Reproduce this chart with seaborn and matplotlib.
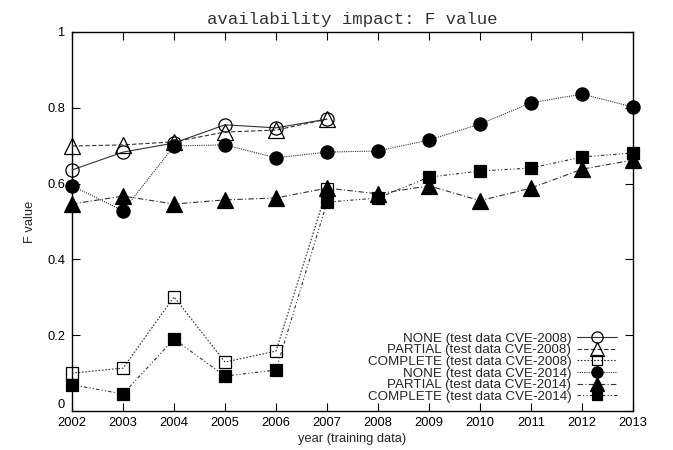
import pandas as pd
import matplotlib
matplotlib.use('Agg')
import matplotlib.pyplot as plt
import seaborn as sns

years_2008 = [2002, 2003, 2004, 2005, 2006, 2007]
years_2014 = list(range(2002, 2014))

none_2008 = [0.636, 0.683, 0.707, 0.755, 0.747, 0.770]
partial_2008 = [0.699, 0.702, 0.710, 0.736, 0.741, 0.770]
complete_2008 = [0.100, 0.113, 0.301, 0.129, 0.158, 0.585]

none_2014 = [0.594, 0.528, 0.699, 0.702, 0.668, 0.683, 0.686, 0.715, 0.757, 0.813, 0.836, 0.802]
partial_2014 = [0.546, 0.567, 0.546, 0.557, 0.562, 0.588, 0.573, 0.594, 0.555, 0.588, 0.638, 0.662]
complete_2014 = [0.069, 0.045, 0.190, 0.092, 0.108, 0.551, 0.562, 0.617, 0.633, 0.641, 0.670, 0.681]

labels = ['NONE (test data CVE-2008)', 'PARTIAL (test data CVE-2008)', 'COMPLETE (test data CVE-2008)',
          'NONE (test data CVE-2014)', 'PARTIAL (test data CVE-2014)', 'COMPLETE (test data CVE-2014)']

sns.set_style('ticks')
plt.rcParams['font.family'] = ['Liberation Sans', 'DejaVu Sans']

fig = plt.figure(figsize=(6.73, 4.5), dpi=100)
ax = fig.add_axes([0.107, 0.0867, 0.8336, 0.8423])

series = [
    (years_2008, none_2008, 'o', 'none', 9.5, '-'),
    (years_2008, partial_2008, '^', 'none', 12, (0, (4, 2))),
    (years_2008, complete_2008, 's', 'none', 9, (0, (1.5, 1.5))),
    (years_2014, none_2014, 'o', 'black', 9.5, (0, (1, 1))),
    (years_2014, partial_2014, '^', 'black', 12, (0, (5, 2, 1, 2))),
    (years_2014, complete_2014, 's', 'black', 9, (0, (3, 2, 1, 2, 1, 2))),
]

for (xs, ys, mk, fc, ms, ls), lab in zip(series, labels):
    df = pd.DataFrame({'year': xs, 'F': ys})
    sns.lineplot(data=df, x='year', y='F', ax=ax, marker=mk, markersize=ms,
                 markerfacecolor=fc, markeredgecolor='black', markeredgewidth=0.9,
                 color='#333333', linewidth=0.8, linestyle=ls, label=lab,
                 clip_on=False, zorder=3)

ax.set_xlim(2002, 2013)
ax.set_ylim(0, 1)
ax.set_xticks(years_2014)
ax.set_xticklabels([str(y) for y in years_2014])
ax.set_yticks([0, 0.2, 0.4, 0.6, 0.8, 1])
ax.set_yticklabels(['0', '0.2', '0.4', '0.6', '0.8', '1'])
ax.get_yticklabels()[0].set_va('bottom')
ax.tick_params(direction='in', top=True, right=True, length=6, width=0.8,
               labelsize=9.3, colors='black')
ax.tick_params(axis='x', pad=4)
ax.tick_params(axis='y', pad=5)
for s in ax.spines.values():
    s.set_visible(True)
    s.set_linewidth(1.0)
    s.set_color('black')

ax.set_xlabel('year (training data)', fontsize=9.3, labelpad=3)
ax.set_ylabel('F value', fontsize=9.3, labelpad=8)
ax.set_title('availability impact: F value', fontsize=12.5,
             family=['Liberation Mono', 'DejaVu Sans Mono'], color='#333333', pad=6)

ax.legend(loc='lower right', frameon=False, markerfirst=False, fontsize=9.6,
          labelspacing=-0.05, handlelength=3.0, handletextpad=0.4, markerscale=0.85,
          borderaxespad=0.2, bbox_to_anchor=(0.985, 0.0))

fig.savefig('out.png', dpi=100)
